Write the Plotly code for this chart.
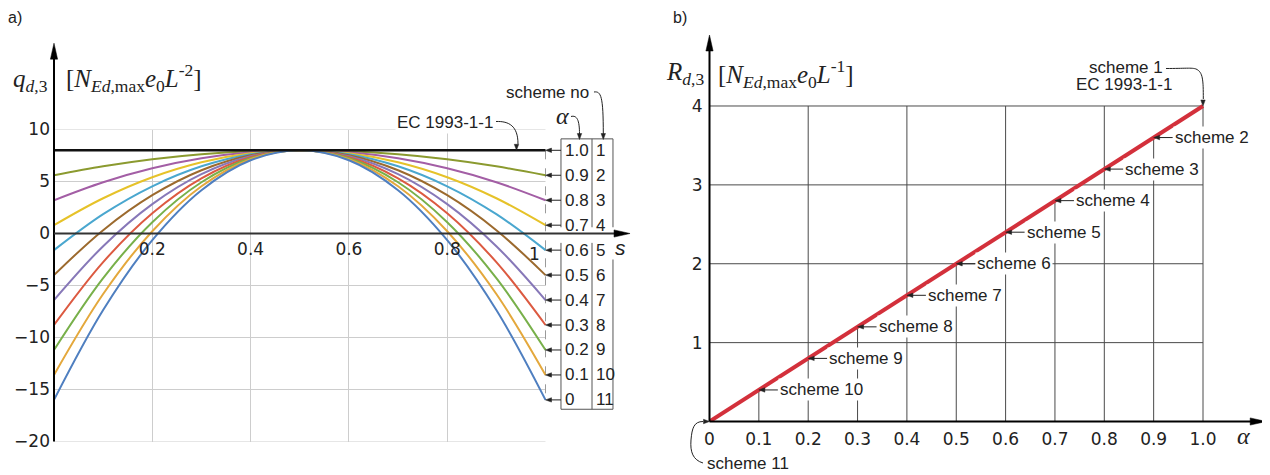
import plotly.graph_objects as go

W, H = 1270, 475          # browser window
BODY = 8                  # default page margin of the html body
FW, FH = W - BODY, H - BODY

# ---------------- data ----------------
S_VALUES = [0.0, 0.1, 0.2, 0.3, 0.4, 0.5, 0.6, 0.7, 0.8, 0.9, 1.0]

ALPHA_LABELS = ["1.0", "0.9", "0.8", "0.7", "0.6", "0.5", "0.4", "0.3", "0.2", "0.1", "0"]
SCHEME_NUMBERS = ["1", "2", "3", "4", "5", "6", "7", "8", "9", "10", "11"]

Q_A10 = [8.0, 8.0, 8.0, 8.0, 8.0, 8.0, 8.0, 8.0, 8.0, 8.0, 8.0]
Q_A09 = [5.6, 6.46, 7.14, 7.62, 7.9, 8.0, 7.9, 7.62, 7.14, 6.46, 5.6]
Q_A08 = [3.2, 4.93, 6.27, 7.23, 7.81, 8.0, 7.81, 7.23, 6.27, 4.93, 3.2]
Q_A07 = [0.8, 3.39, 5.41, 6.85, 7.71, 8.0, 7.71, 6.85, 5.41, 3.39, 0.8]
Q_A06 = [-1.6, 1.86, 4.54, 6.46, 7.62, 8.0, 7.62, 6.46, 4.54, 1.86, -1.6]
Q_A05 = [-4.0, 0.32, 3.68, 6.08, 7.52, 8.0, 7.52, 6.08, 3.68, 0.32, -4.0]
Q_A04 = [-6.4, -1.22, 2.82, 5.7, 7.42, 8.0, 7.42, 5.7, 2.82, -1.22, -6.4]
Q_A03 = [-8.8, -2.75, 1.95, 5.31, 7.33, 8.0, 7.33, 5.31, 1.95, -2.75, -8.8]
Q_A02 = [-11.2, -4.29, 1.09, 4.93, 7.23, 8.0, 7.23, 4.93, 1.09, -4.29, -11.2]
Q_A01 = [-13.6, -5.82, 0.22, 4.54, 7.14, 8.0, 7.14, 4.54, 0.22, -5.82, -13.6]
Q_A00 = [-16.0, -7.36, -0.64, 4.16, 7.04, 8.0, 7.04, 4.16, -0.64, -7.36, -16.0]

LEFT_XTICKS = [0.2, 0.4, 0.6, 0.8]
LEFT_XTICKTEXT = ["0.2", "0.4", "0.6", "0.8"]
LEFT_YTICKS = [-20, -15, -10, -5, 0, 5, 10]

R_ALPHA = [0.0, 0.1, 0.2, 0.3, 0.4, 0.5, 0.6, 0.7, 0.8, 0.9, 1.0]
R_VALUES = [0.0, 0.4, 0.8, 1.2, 1.6, 2.0, 2.4, 2.8, 3.2, 3.6, 4.0]
R_SCHEMES = ["scheme 11", "scheme 10", "scheme 9", "scheme 8", "scheme 7", "scheme 6",
             "scheme 5", "scheme 4", "scheme 3", "scheme 2", "scheme 1"]
RIGHT_XTICKTEXT = ["0", "0.1", "0.2", "0.3", "0.4", "0.5", "0.6", "0.7", "0.8", "0.9", "1.0"]
RIGHT_YTICKS = [1, 2, 3, 4]

# ---------------- styling / geometry ----------------
CURVE_COLORS = ["#111111", "#8b9a2f", "#a35ea5", "#e6c229", "#4aa7cf", "#9c6a2e",
                "#8778b8", "#dc5a41", "#78b04a", "#e4a83c", "#4f7fc0"]
Q_CURVES = [Q_A10, Q_A09, Q_A08, Q_A07, Q_A06, Q_A05, Q_A04, Q_A03, Q_A02, Q_A01, Q_A00]

SANS = "Liberation Sans, Arial, sans-serif"
NUMF = "DejaVu Sans, Liberation Sans, sans-serif"
SERIF = "Liberation Serif, Times New Roman, serif"
TXT = "#222222"
LEAD = "#222222"

# frame geometry, in window pixels
L_X0, L_XS = 54.0, 491.5      # pixel of s=0, px per unit s
L_Y0, L_YS = 233.5, 10.4      # pixel of q=0, px per unit q
L_XR, L_YR = [0, 1.2], [-20, 10]
R_X0, R_XS = 709.5, 493.5
R_Y0, R_YS = 421.5, 78.875
R_XR, R_YR = [0, 1.02], [0, 4.05]


def dom_x(x0, xs, rng):
    return [(x0 + xs * rng[0] - BODY) / FW, (x0 + xs * rng[1] - BODY) / FW]


def dom_y(y0, ys, rng):
    return [1 - (y0 - ys * rng[0] - BODY) / FH, 1 - (y0 - ys * rng[1] - BODY) / FH]


def P(px, py):
    return (px - BODY) / FW, 1 - (py - BODY) / FH


def lpix(s, v):
    return L_X0 + L_XS * s, L_Y0 - L_YS * v


def rpix(a, r):
    return R_X0 + R_XS * a, R_Y0 - R_YS * r


def fmt(pt):
    x, y = P(*pt)
    return f"{x:.5f},{y:.5f}"


def curve_path(pts):
    s = "M" + fmt(pts[0])
    rest = pts[1:]
    for i in range(0, len(rest), 3):
        s += " C" + fmt(rest[i]) + " " + fmt(rest[i + 1]) + " " + fmt(rest[i + 2])
    return s


def triangle(tip, direction, length, half, color="black"):
    tx, ty = tip
    if direction == "up":
        pts = [(tx, ty), (tx - half, ty + length), (tx + half, ty + length)]
    elif direction == "down":
        pts = [(tx, ty), (tx - half, ty - length), (tx + half, ty - length)]
    elif direction == "right":
        pts = [(tx, ty), (tx - length, ty - half), (tx - length, ty + half)]
    else:
        pts = [(tx, ty), (tx + length, ty - half), (tx + length, ty + half)]
    path = "M" + " L".join(fmt(p) for p in pts) + " Z"
    return dict(type="path", xref="paper", yref="paper", path=path,
                fillcolor=color, line=dict(color=color, width=0.5), layer="above")


def seg(a, b, color="black", width=1):
    (x0, y0), (x1, y1) = P(*a), P(*b)
    return dict(type="line", xref="paper", yref="paper", x0=x0, y0=y0, x1=x1, y1=y1,
                line=dict(color=color, width=width), layer="above")


def label(px, py, text, size=17, family=SANS, xanchor="center", bg=None):
    x, y = P(px, py)
    d = dict(x=x, y=y, xref="paper", yref="paper", text=text, showarrow=False,
             xanchor=xanchor, yanchor="middle", font=dict(family=family, size=size, color=TXT))
    if bg:
        d.update(bgcolor=bg, borderpad=1)
    return d


fig = go.Figure()

# ---------------- left chart curves ----------------
order = list(range(len(Q_CURVES)))[1:] + [0]
for i in order:
    fig.add_trace(go.Scatter(
        x=S_VALUES, y=Q_CURVES[i], mode="lines", xaxis="x", yaxis="y",
        line=dict(color=CURVE_COLORS[i], width=2.6 if i == 0 else 2, shape="spline", smoothing=1.0),
        hoverinfo="skip", showlegend=False))

# ---------------- right chart line ----------------
fig.add_trace(go.Scatter(
    x=R_ALPHA, y=R_VALUES, mode="lines", xaxis="x2", yaxis="y2",
    line=dict(color="#d3303b", width=4), hoverinfo="skip", showlegend=False))

shapes = []
ann = []

# left horizontal grid lines (end at s = 1)
for v in LEFT_YTICKS:
    if v == 0:
        continue
    shapes.append(dict(type="line", xref="x", yref="y", x0=0, x1=S_VALUES[-1], y0=v, y1=v,
                       line=dict(color="#cdcdcd", width=1), layer="below"))
# dashed line at s = 1
shapes.append(dict(type="line", xref="x", yref="y", x0=S_VALUES[-1], x1=S_VALUES[-1],
                   y0=Q_A10[-1], y1=Q_A00[-1], line=dict(color="#9a9a9a", width=1, dash="dash"),
                   layer="below"))

# left axes with arrows
ytip = lpix(0, 18.3)
shapes.append(seg(lpix(0, -20), (ytip[0], ytip[1] + 10), "black", 2))
shapes.append(triangle(ytip, "up", 16, 3.6))
xtip = lpix(1.172, 0)
shapes.append(seg(lpix(0, 0), (xtip[0] - 10, xtip[1]), "#333333", 2))
shapes.append(triangle(xtip, "right", 16, 3.6))

# table at right of left chart
TBL_L, TBL_M, TBL_R = 1.0315, 1.0946, 1.1373
TBL_TOP, TBL_UPBOT, TBL_LOTOP, TBL_LOTOP_R, TBL_BOT = 9.1, 0.6, -0.9, -2.5, -16.9
tcol = "#555555"
for (x0, x1, y0, y1) in [
    (TBL_L, TBL_R, TBL_TOP, TBL_TOP),
    (TBL_L, TBL_L, TBL_TOP, TBL_UPBOT),
    (TBL_M, TBL_M, TBL_TOP, TBL_UPBOT),
    (TBL_R, TBL_R, TBL_TOP, TBL_UPBOT),
    (TBL_L, TBL_L, TBL_LOTOP, TBL_BOT),
    (TBL_M, TBL_M, TBL_LOTOP, TBL_BOT),
    (TBL_R, TBL_R, TBL_LOTOP_R, TBL_BOT),
    (TBL_L, TBL_R, TBL_BOT, TBL_BOT),
]:
    shapes.append(dict(type="line", xref="x", yref="y", x0=x0, x1=x1, y0=y0, y1=y1,
                       line=dict(color=tcol, width=1), layer="above"))

for i, q in enumerate(Q_CURVES):
    v = q[-1]
    head = lpix(S_VALUES[-1], v)
    tail = lpix(TBL_L, v)
    shapes.append(seg((head[0] + 4, head[1]), tail, LEAD, 1))
    shapes.append(triangle(head, "left", 6, 2.2, LEAD))
    ann.append(dict(x=1.036, y=v, xref="x", yref="y", text=ALPHA_LABELS[i], showarrow=False,
                    xanchor="left", yanchor="middle", font=dict(family=SANS, size=17, color=TXT)))
    ann.append(dict(x=1.099, y=v, xref="x", yref="y", text=SCHEME_NUMBERS[i], showarrow=False,
                    xanchor="left", yanchor="middle", font=dict(family=SANS, size=17, color=TXT)))

# left chart texts and curved leaders
ann.append(label(445.5, 122, "EC 1993-1-1", bg="white"))
shapes.append(dict(type="path", xref="paper", yref="paper",
                   path=curve_path([(496, 121.5), (509, 121), (518, 126), (518, 144)]),
                   line=dict(color=LEAD, width=1)))
shapes.append(triangle(lpix(0.941, Q_A10[0]), "down", 6, 2.2, LEAD))

ann.append(label(562, 116, "<i>α</i>", size=24, family=SERIF))
shapes.append(dict(type="path", xref="paper", yref="paper",
                   path=curve_path([(571, 116.5), (577, 115), (579.5, 120), (579.5, 134)]),
                   line=dict(color=LEAD, width=1)))
shapes.append(triangle((579.5, 139.5), "down", 6, 2.2, LEAD))

ann.append(label(547, 92, "scheme no"))
shapes.append(dict(type="path", xref="paper", yref="paper",
                   path=curve_path([(594, 92), (601, 91), (603.3, 96), (603.3, 134)]),
                   line=dict(color=LEAD, width=1)))
shapes.append(triangle((603.3, 139.5), "down", 6, 2.2, LEAD))

ann.append(dict(x=S_VALUES[-1], y=0, xref="x", yref="y", text="1", showarrow=False,
                xanchor="right", yanchor="top", xshift=-4, yshift=-8,
                font=dict(family=NUMF, size=17, color=TXT)))
ann.append(label(620, 247, "<i>s</i>", size=21))

ann.append(label(50, 80, "<i>q</i><sub><i>d</i>,3</sub>", size=25, family=SERIF, xanchor="right"))
ann.append(label(64, 78, "[<i>N</i><sub><i>Ed</i>,max</sub><i>e</i><sub>0</sub><i>L</i><sup>-2</sup>]",
                 size=25, family=SERIF, xanchor="left"))
ann.append(label(15, 17, "a)", size=16))
ann.append(label(680, 17, "b)", size=16))

# ---------------- right chart grid ----------------
gcol = "#4a4a4a"
for a, r in zip(R_ALPHA, R_VALUES):
    if a == 0:
        continue
    even = round(a * 10) % 2 == 0
    shapes.append(dict(type="line", xref="x2", yref="y2", x0=a, x1=a, y0=0,
                       y1=R_VALUES[-1] if even else r, line=dict(color=gcol, width=1), layer="below"))
for v in RIGHT_YTICKS:
    shapes.append(dict(type="line", xref="x2", yref="y2", x0=0, x1=R_ALPHA[-1], y0=v, y1=v,
                       line=dict(color=gcol, width=1), layer="below"))

# right axes with arrows
ctip = rpix(0, 4.9)
shapes.append(seg(rpix(0, 0), (ctip[0], ctip[1] + 10), "black", 2))
shapes.append(triangle(ctip, "up", 16, 3.6))
dtip = rpix(1.128, 0)
shapes.append(seg(rpix(0, 0), (dtip[0] - 10, dtip[1]), "black", 2))
shapes.append(triangle(dtip, "right", 16, 3.6))

# scheme labels with short leaders
for a, r, lab in zip(R_ALPHA, R_VALUES, R_SCHEMES):
    if lab in ("scheme 1", "scheme 11"):
        continue
    pt = rpix(a, r)
    shapes.append(seg((pt[0] + 4, pt[1]), (pt[0] + 19, pt[1]), LEAD, 1))
    shapes.append(triangle(pt, "left", 6, 2.2, LEAD))
    ann.append(dict(x=a, y=r, xref="x2", yref="y2", xshift=19, text=lab, xanchor="left",
                    yanchor="middle", showarrow=False, bgcolor="white", borderpad=1,
                    font=dict(family=SANS, size=17, color=TXT)))

ann.append(label(1126, 67, R_SCHEMES[-1]))
ann.append(label(1124, 84, "EC 1993-1-1"))
shapes.append(dict(type="path", xref="paper", yref="paper",
                   path=curve_path([(1166, 68.5), (1185, 68.5), (1192, 67.5), (1196, 69),
                                    (1203, 72), (1203.3, 80), (1203.3, 99)]),
                   line=dict(color=LEAD, width=1)))
shapes.append(triangle(rpix(R_ALPHA[-1], R_VALUES[-1]), "down", 6, 2.2, LEAD))

ann.append(label(705, 463, R_SCHEMES[0], xanchor="left"))
shapes.append(dict(type="path", xref="paper", yref="paper",
                   path=curve_path([(703, 463), (693, 460), (690, 452), (691, 440),
                                    (692, 428), (694, 421.5), (703, 421.5)]),
                   line=dict(color=LEAD, width=1)))
shapes.append(triangle(rpix(R_ALPHA[0], R_VALUES[0]), "right", 6, 2.2, LEAD))

ann.append(label(1243, 436, "<i>α</i>", size=24, family=SERIF))
ann.append(label(706, 74, "<i>R</i><sub><i>d</i>,3</sub>", size=25, family=SERIF, xanchor="right"))
ann.append(label(716, 74, "[<i>N</i><sub><i>Ed</i>,max</sub><i>e</i><sub>0</sub><i>L</i><sup>-1</sup>]",
                 size=25, family=SERIF, xanchor="left"))

tickfont = dict(family=NUMF, size=17, color=TXT)
fig.update_layout(
    width=FW, height=FH, margin=dict(l=0, r=0, t=0, b=0, pad=0, autoexpand=False),
    autosize=False,
    paper_bgcolor="white", plot_bgcolor="white", showlegend=False,
    xaxis=dict(domain=dom_x(L_X0, L_XS, L_XR), range=L_XR, anchor="free",
               position=1 - (L_Y0 - BODY) / FH, tickvals=LEFT_XTICKS, ticktext=LEFT_XTICKTEXT,
               showgrid=True, gridcolor="#cdcdcd", gridwidth=1, zeroline=False, showline=False,
               ticks="", tickfont=tickfont, ticklabelstandoff=3, fixedrange=True, automargin=False),
    yaxis=dict(domain=dom_y(L_Y0, L_YS, L_YR), range=L_YR, anchor="x", tickvals=LEFT_YTICKS,
               showgrid=False, zeroline=False, showline=False, ticks="", tickfont=tickfont,
               ticklabelstandoff=3, fixedrange=True, automargin=False),
    xaxis2=dict(domain=dom_x(R_X0, R_XS, R_XR), range=R_XR, anchor="y2", tickvals=R_ALPHA,
                ticktext=RIGHT_XTICKTEXT, showgrid=False, zeroline=False, showline=False,
                ticks="", tickfont=tickfont, ticklabelstandoff=5, fixedrange=True, automargin=False),
    yaxis2=dict(domain=dom_y(R_Y0, R_YS, R_YR), range=R_YR, anchor="x2", tickvals=RIGHT_YTICKS,
                showgrid=False, zeroline=False, showline=False, ticks="", tickfont=tickfont,
                ticklabelstandoff=6, fixedrange=True, automargin=False),
    shapes=shapes, annotations=ann,
)

fig.write_html("out.html", config={"displayModeBar": False})
